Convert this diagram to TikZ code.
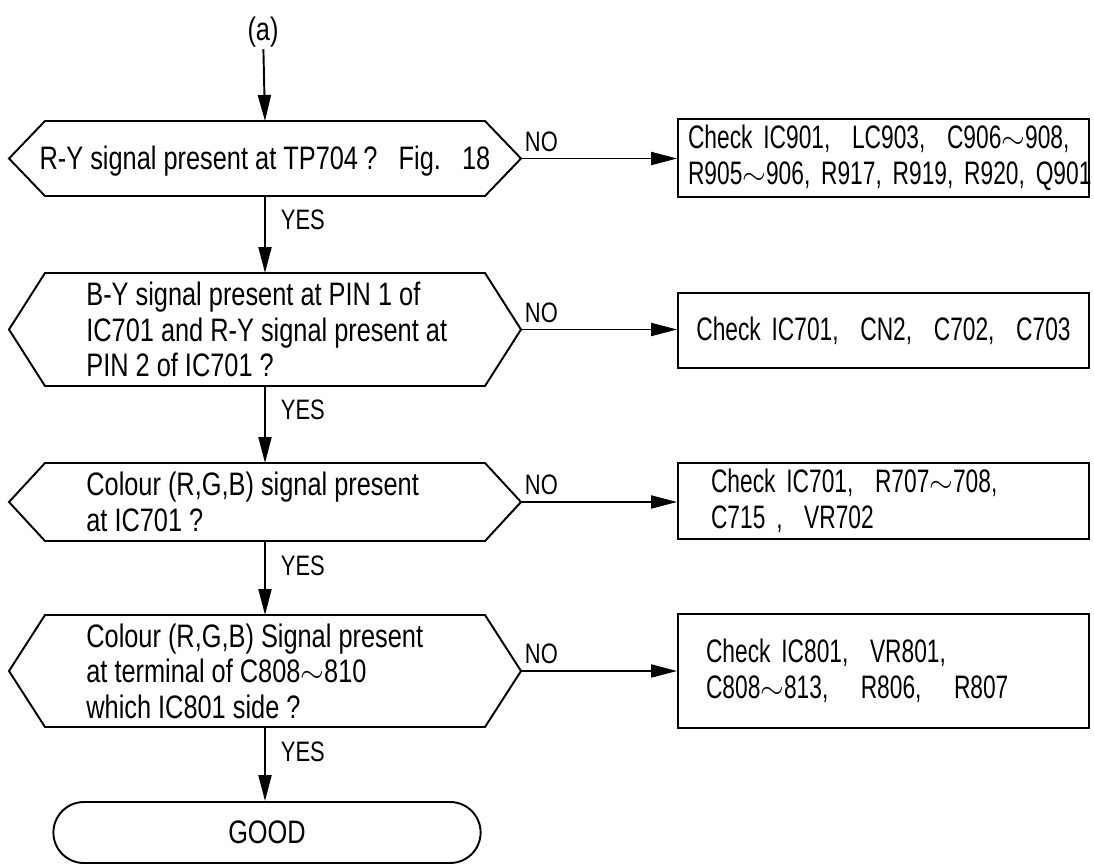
\documentclass[tikz,border=0pt]{standalone}
\usepackage{fontspec}
\setmainfont{Liberation Sans}[FakeStretch=0.78]
\newfontfamily\boxfont{Liberation Sans}[FakeStretch=0.70]
\usetikzlibrary{arrows.meta,shapes.misc}
\newcommand\mkhex[3]{%
  \coordinate (#1-n) at (265,#2);
  \coordinate (#1-s) at (265,#3);
  \coordinate (#1-e) at (521,{(#2+#3)/2});
  \coordinate (#1-w) at (9,{(#2+#3)/2});
  \draw[dec] (45,#2) -- (485,#2) -- (#1-e) -- (485,#3) -- (45,#3) -- (#1-w) -- cycle;
}
\newcommand\til{$\sim$}
\tikzset{
  base/.style={font=\fontsize{18.5}{20.2}\selectfont},
  dec/.style={draw, line width=1.1pt, line join=miter},
  txt/.style={base, inner sep=0pt},
  chk/.style={font=\boxfont\fontsize{18.5}{20.2}\selectfont, draw, line width=1.1pt, rectangle, minimum width=8.22cm, align=left, inner ysep=0pt},
  lbl/.style={font=\fontsize{16}{18}\selectfont, inner sep=0pt},
  arr/.style={line width=1.1pt, -{Triangle[length=5.2mm,width=2.6mm]}},
  yes/.style={lbl, anchor=base west, xshift=0.3cm, yshift=-0.68cm},
  no/.style={lbl, anchor=base west, xshift=0.06cm, yshift=0.15cm},
}
\begin{document}
\begin{tikzpicture}[x=0.02cm, y=-0.02cm]
\useasboundingbox (0,0) rectangle (1094,865);
% decisions
\mkhex{d1}{121}{196}
\mkhex{d2}{273}{386}
\mkhex{d3}{463}{541}
\mkhex{d4}{615}{727}
\node[txt, align=center] (t1) at (265,161) {R-Y signal present at TP704\,?\ \ \ Fig.\ \ \ 18};
\node[txt, align=left, anchor=west] (t2) at (86,329.5) {B-Y signal present at PIN 1 of\\IC701 and R-Y signal present at\\PIN 2 of IC701 ?};
\node[txt, align=left, anchor=west] (t3) at (86,502) {Colour (R,G,B) signal present\\at IC701 ?};
\node[txt, align=left, anchor=west] (t4) at (86,671) {Colour (R,G,B) Signal present\\at terminal of C808\til810\\which IC801 side ?};
% start
\node[base, inner sep=1pt] (a) at (263,32) {(a)};
% boxes
\node[chk, minimum height=1.56cm, text width=7.82cm, inner xsep=0.2cm] (b1) at (883.5,158)
  {\mbox{Check IC901,\ \ LC903,\ \ C906\til908,}\\\mbox{R905\til906, R917, R919, R920, Q901}};
\node[chk, minimum height=1.5cm, text width=8.22cm, inner xsep=0pt, align=center] (b2) at (883.5,330.5)
  {Check IC701,\ \ CN2,\ \ C702,\ \ C703};
\node[chk, minimum height=1.52cm, text width=6.9cm, inner xsep=0.66cm] (b3) at (883.5,501)
  {\mbox{Check IC701,\ \ R707\til708,}\\\mbox{C715 ,\ \ VR702}};
\node[chk, minimum height=2.28cm, text width=7.1cm, inner xsep=0.56cm] (b4) at (883.5,671)
  {\mbox{Check IC801,\ \ VR801,}\\\mbox{C808\til813,\ \ \ R806,\ \ \ R807}};
% terminal
\node[base, draw, line width=1.1pt, rounded rectangle, minimum width=8.78cm, minimum height=1.22cm] (good) at (267,832.5) {GOOD};
% vertical flow
\draw[arr] (a) -- (d1-n);
\draw[arr] (d1-s) -- (d2-n) node[yes, at start] {YES};
\draw[arr] (d2-s) -- (d3-n) node[yes, at start] {YES};
\draw[arr] (d3-s) -- (d4-n) node[yes, at start] {YES};
\draw[arr] (d4-s) -- (d4-s |- good.north) node[yes, at start] {YES};
% NO branches
\draw[arr] (d1-e) -- (d1-e -| b1.west) node[no, at start] {NO};
\draw[arr] (d2-e) -- (d2-e -| b2.west) node[no, at start] {NO};
\draw[arr] (d3-e) -- (d3-e -| b3.west) node[no, at start] {NO};
\draw[arr] (d4-e) -- (d4-e -| b4.west) node[no, at start] {NO};
\end{tikzpicture}
\end{document}
